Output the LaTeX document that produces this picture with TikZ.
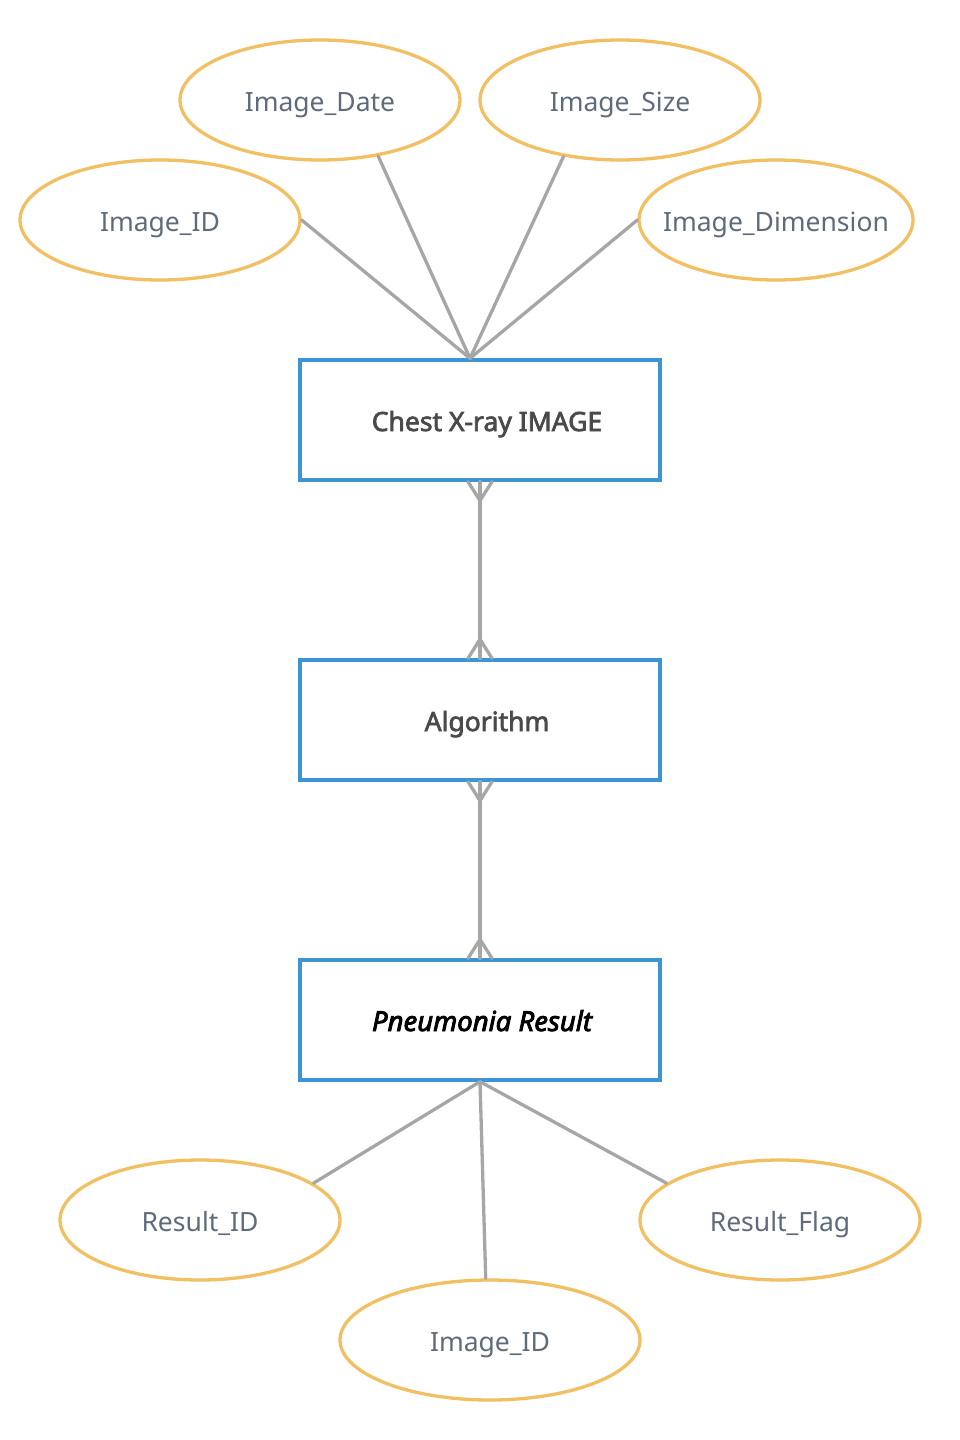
\documentclass[tikz,border=0pt]{standalone}
\usepackage{fontspec}
\setmainfont{Noto Sans}
\newfontfamily\entfont{Noto Sans}[FakeBold=2.6]
\newfontfamily\entitfont{Noto Sans Italic}[FakeBold=3]
\usetikzlibrary{shapes.geometric,calc}
\definecolor{attrc}{HTML}{F2BF63}
\definecolor{entc}{HTML}{3A94D6}
\definecolor{linec}{HTML}{A6A6A6}
\definecolor{attrtxt}{HTML}{5E6B7B}
\definecolor{enttxt}{HTML}{4A4A4A}
\newcommand{\zbx}[1]{\makebox[0pt]{\raisebox{-11pt}[0pt][0pt]{#1}}}
\begin{document}
\begin{tikzpicture}[x=1pt,y=-1pt,
  attr/.style={ellipse,draw=attrc,line width=3.3pt,fill=white,minimum width=280pt,minimum height=120pt,inner sep=0pt,text=attrtxt,font=\fontsize{26.5}{30}\selectfont},
  ent/.style={rectangle,draw=entc,line width=3.3pt,fill=white,minimum width=360pt,minimum height=120pt,inner sep=0pt,text=enttxt,font=\entfont\fontsize{26.5}{30}\selectfont},
  conn/.style={draw=linec,line width=3.3pt}]
\useasboundingbox (0,0) rectangle (960,1440);
\node[attr] (imgdate) at (320,100) {\zbx{Image\_Date}};
\node[attr] (imgsize) at (620,100) {\zbx{Image\_Size}};
\node[attr] (imgid) at (160,220) {\zbx{Image\_ID}};
\node[attr,minimum width=274pt] (imgdim) at (776,220) {\zbx{Image\_Dimension}};
\node[ent] (chest) at (480,420) {\zbx{\hspace{14pt}Chest X-ray IMAGE}};
\node[ent] (algo) at (480,720) {\zbx{\hspace{14pt}Algorithm}};
\node[ent,text=black,font=\entitfont\fontsize{27.5}{30}\selectfont] (pneu) at (480,1020) {\zbx{\hspace{4pt}Pneumonia Result}};
\node[attr] (resid) at (200,1220) {\zbx{Result\_ID}};
\node[attr,minimum width=300pt] (imgid2) at (490,1340) {\zbx{Image\_ID}};
\node[attr] (resflag) at (780,1220) {\zbx{Result\_Flag}};
\coordinate (top) at ($(chest.north)+(-10,0)$);
\begin{scope}[line cap=round]
\draw[conn] (imgid.east) -- (top);
\draw[conn] (imgdate.-44.5) -- (top);
\draw[conn] (imgsize.-135.5) -- (top);
\draw[conn] (imgdim.west) -- (top);
\draw[conn] (chest.south) -- (algo.north);
\draw[conn] (algo.south) -- (pneu.north);
% crow's feet
\foreach \n/\s in {chest/south,algo/south}{
  \draw[conn] ($(\n.\s)+(0,19)$) -- ($(\n.\s)+(-12,0)$);
  \draw[conn] ($(\n.\s)+(0,19)$) -- ($(\n.\s)+(12,0)$);
}
\foreach \n/\s in {algo/north,pneu/north}{
  \draw[conn] ($(\n.\s)+(0,-19)$) -- ($(\n.\s)+(-12,0)$);
  \draw[conn] ($(\n.\s)+(0,-19)$) -- ($(\n.\s)+(12,0)$);
}
\draw[conn] (pneu.south) -- (resid.18);
\draw[conn] (pneu.south) -- (imgid2.94);
\draw[conn] (pneu.south) -- (resflag.162);
\end{scope}
\end{tikzpicture}
\end{document}
